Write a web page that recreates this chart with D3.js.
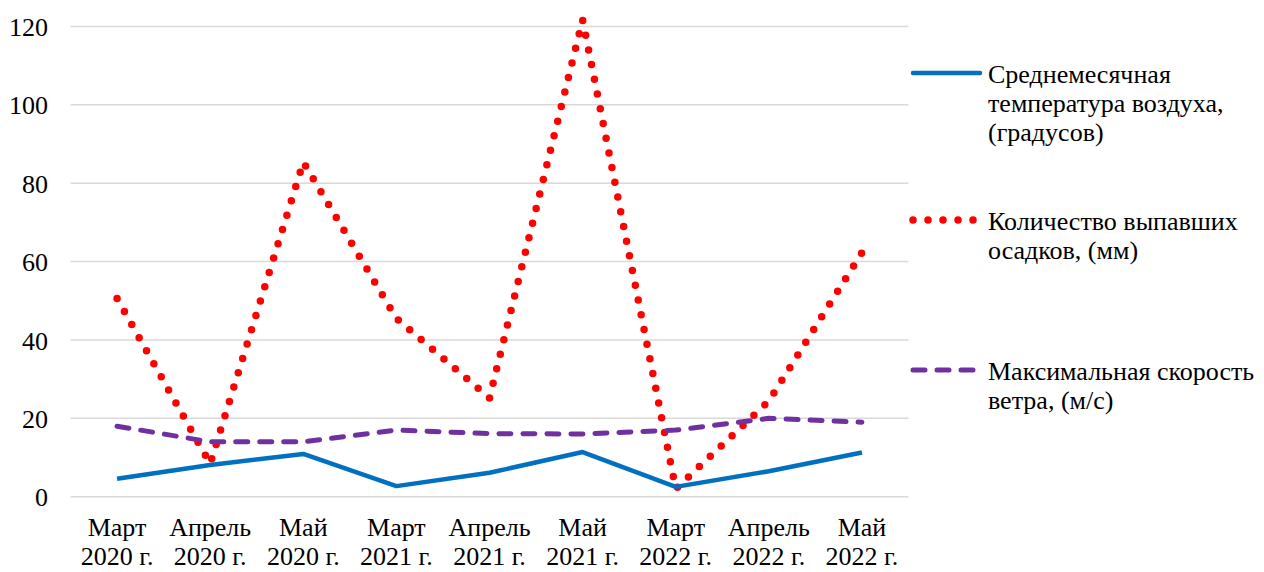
<!DOCTYPE html>
<html>
<head>
<meta charset="utf-8">
<script src="https://cdn.jsdelivr.net/npm/d3@7"></script>
</head>
<body style="margin:0; font-family: 'Liberation Serif';">
<svg id="chart" width="1264" height="572" font-family="Liberation Serif" style="display:block"></svg>
<script>
// Months of observation (two-line labels)
const months = ["Март", "Апрель", "Май", "Март", "Апрель", "Май", "Март", "Апрель", "Май"];
const years  = ["2020 г.", "2020 г.", "2020 г.", "2021 г.", "2021 г.", "2021 г.", "2022 г.", "2022 г.", "2022 г."];

// Series values
const temperature   = [4.6, 8.1, 10.9, 2.7, 6.1, 11.4, 2.5, 6.5, 11.3];
const precipitation = [50.6, 8.4, 85.4, 45.5, 25.2, 121.7, 2.0, 24.4, 62.3];
const windMax       = [18.0, 14.0, 14.0, 17.0, 16.1, 16.0, 17.0, 20.0, 19.0];

const yTicks = [0, 20, 40, 60, 80, 100, 120];

const seriesNames = [
  ["Среднемесячная", "температура воздуха,", "(градусов)"],
  ["Количество выпавших", "осадков, (мм)"],
  ["Максимальная скорость", "ветра, (м/с)"]
];

const FONT = "Liberation Serif";
const FS = 26;

const svg = d3.select("#chart");
const keys = months.map((m, i) => i);

const x = d3.scaleBand().domain(keys).range([70.5, 908.5]);
const cx = i => x(i) + x.bandwidth() / 2;
const y = d3.scaleLinear().domain([0, 120]).range([496.7, 26.5]);

// Common text styling
const serif = sel => sel
  .attr("font-family", FONT)
  .style("font-family", `"${FONT}"`)
  .attr("font-size", FS)
  .attr("fill", "#000");

// Horizontal gridlines
svg.append("g")
  .selectAll("line")
  .data(yTicks)
  .join("line")
  .attr("x1", 70.5).attr("x2", 908.5)
  .attr("y1", d => y(d)).attr("y2", d => y(d))
  .attr("stroke", "#d9d9d9").attr("stroke-width", 1.5);

// Y axis labels
const yAxis = d3.axisLeft(y).tickValues(yTicks).tickSize(0).tickPadding(0);
svg.append("g")
  .attr("transform", "translate(48,0)")
  .call(yAxis)
  .call(serif)
  .call(g => g.select(".domain").remove())
  .call(g => g.selectAll("text").call(serif).attr("dy", "0.35em"));

// X axis labels (two lines each)
keys.forEach(i => {
  svg.append("text").call(serif)
    .attr("text-anchor", "middle")
    .attr("x", cx(i)).attr("y", 536)
    .text(months[i]);
  svg.append("text").call(serif)
    .attr("text-anchor", "middle")
    .attr("x", cx(i)).attr("y", 565)
    .text(years[i]);
});

const line = vals => d3.line().x((d, i) => cx(i)).y(d => y(d))(vals);

// Precipitation — round-dot line
svg.append("path")
  .attr("d", line(precipitation))
  .attr("fill", "none").attr("stroke", "#ff0000")
  .attr("stroke-width", 7.5).attr("stroke-linecap", "round")
  .attr("stroke-dasharray", "0,15");

// Max wind speed — dashed line
svg.append("path")
  .attr("d", line(windMax))
  .attr("fill", "none").attr("stroke", "#7030a0")
  .attr("stroke-width", 5).attr("stroke-linecap", "round")
  .attr("stroke-linejoin", "round")
  .attr("stroke-dasharray", "12,12");

// Mean monthly temperature — solid line
svg.append("path")
  .attr("d", line(temperature))
  .attr("fill", "none").attr("stroke", "#0070c0")
  .attr("stroke-width", 4.5).attr("stroke-linejoin", "round");

// Legend
const styles = [
  { color: "#0070c0", width: 4.5, dash: null, y: 73 },
  { color: "#ff0000", width: 7.5, dash: "0,15", y: 220 },
  { color: "#7030a0", width: 5, dash: "12,12", y: 370 }
];
styles.forEach((s, k) => {
  const ln = svg.append("line")
    .attr("x1", 913).attr("x2", 980)
    .attr("y1", s.y).attr("y2", s.y)
    .attr("stroke", s.color).attr("stroke-width", s.width)
    .attr("stroke-linecap", "round");
  if (s.dash) ln.attr("stroke-dasharray", s.dash);
  seriesNames[k].forEach((txt, j) => {
    svg.append("text").call(serif)
      .attr("x", 988).attr("y", s.y + 10 + j * 29)
      .text(txt);
  });
});
</script>
</body>
</html>
